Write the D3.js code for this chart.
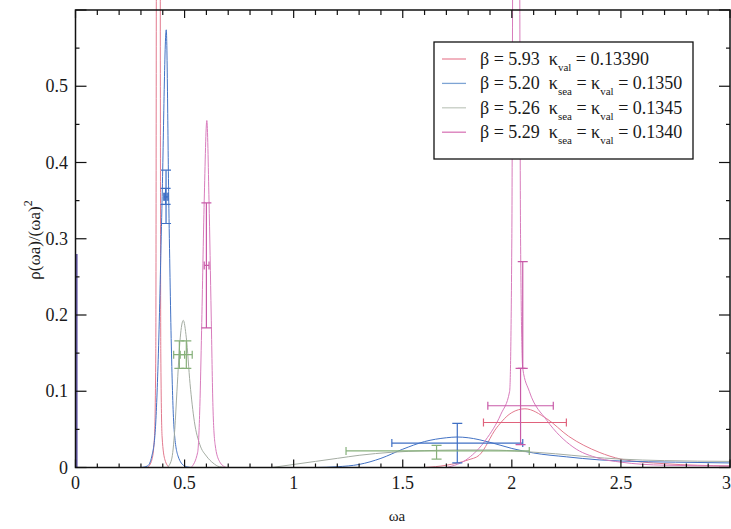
<!DOCTYPE html>
<html>
<head>
<meta charset="utf-8">
<script src="https://cdn.jsdelivr.net/npm/d3@7"></script>
</head>
<body style="margin:0">
<svg id="chart" width="731" height="529"></svg>
<script>
// spectral curves, [omega a, rho(omega a)/(omega a)^2]
const redNarrow = [[0.33, 0], [0.35, 0.01], [0.362, 0.04], [0.368, 0.15], [0.370, 0.5], [0.372, 1.2], [0.38, 3], [0.387, 1.2], [0.389, 0.5], [0.391, 0.15], [0.397, 0.04], [0.41, 0.01], [0.43, 0]];
const redBroad = [[1.6, 0], [1.7, 0.003], [1.8, 0.01], [1.85, 0.016], [1.93, 0.052], [2.0, 0.072], [2.06, 0.077], [2.16, 0.064], [2.26, 0.041], [2.4, 0.02], [2.5, 0.011], [2.7, 0.005], [3.0, 0.002]];

const blueZero = [[0.004, 0.28], [0.004, 0]];
const blueNarrow = [[0.30, 0], [0.33, 0.002], [0.35, 0.015], [0.366, 0.05], [0.38, 0.15], [0.396, 0.34], [0.416, 0.574], [0.428, 0.34], [0.44, 0.15], [0.452, 0.05], [0.47, 0.015], [0.5, 0.002], [0.53, 0]];
const blueBroad = [[1.1, 0], [1.2, 0.001], [1.3, 0.004], [1.4, 0.012], [1.5, 0.024], [1.6, 0.034], [1.7, 0.039], [1.75, 0.04], [1.8, 0.039], [1.9, 0.033], [2.0, 0.025], [2.1, 0.019], [2.25, 0.014], [2.4, 0.01], [2.5, 0.0085], [2.75, 0.007], [3.0, 0.006]];

const greenNarrow = [[0.42, 0], [0.44, 0.01], [0.455, 0.05], [0.465, 0.1], [0.48, 0.17], [0.494, 0.193], [0.508, 0.17], [0.525, 0.11], [0.545, 0.06], [0.57, 0.03], [0.6, 0.015], [0.63, 0.006], [0.66, 0.001], [0.7, 0]];
const greenBroad = [[0.9, 0], [1.0, 0.004], [1.1, 0.008], [1.2, 0.012], [1.3, 0.016], [1.45, 0.02], [1.6, 0.022], [1.75, 0.023], [1.9, 0.023], [2.05, 0.021], [2.2, 0.018], [2.35, 0.014], [2.5, 0.011], [2.7, 0.009], [3.0, 0.008]];

const magNarrow = [[0.53, 0], [0.56, 0.02], [0.57, 0.08], [0.578, 0.18], [0.59, 0.35], [0.602, 0.455], [0.612, 0.35], [0.622, 0.2], [0.63, 0.08], [0.64, 0.03], [0.66, 0.008], [0.69, 0]];
const magBroad = [[1.7, 0], [1.8, 0.012], [1.88, 0.036], [1.95, 0.07], [1.99, 0.1], [2.0, 0.3], [2.005, 0.8], [2.02, 3], [2.035, 0.8], [2.04, 0.3], [2.05, 0.13], [2.08, 0.1], [2.16, 0.062], [2.28, 0.027], [2.4, 0.012], [2.5, 0.007], [2.7, 0.003], [3.0, 0.002]];

// error bars: x, y, x range, y range
const redErr = [{ x: 2.06, y: 0.059, xlo: 1.87, xhi: 2.25, ylo: 0.059, yhi: 0.059 }];
const blueErr = [
  { x: 0.415, y: 0.355, xlo: 0.405, xhi: 0.425, ylo: 0.32, yhi: 0.39 },
  { x: 0.413, y: 0.355, xlo: 0.407, xhi: 0.42, ylo: 0.345, yhi: 0.366 },
  { x: 1.75, y: 0.032, xlo: 1.45, xhi: 2.05, ylo: 0.006, yhi: 0.058 }
];
const greenErr = [
  { x: 0.476, y: 0.148, xlo: 0.45, xhi: 0.50, ylo: 0.13, yhi: 0.166 },
  { x: 0.508, y: 0.148, xlo: 0.48, xhi: 0.535, ylo: 0.13, yhi: 0.166 },
  { x: 1.66, y: 0.0217, xlo: 1.24, xhi: 2.08, ylo: 0.0217, yhi: 0.0217 },
  { x: 1.655, y: 0.02, xlo: 1.655, xhi: 1.655, ylo: 0.011, yhi: 0.029 }
];
const magErr = [
  { x: 0.6, y: 0.265, xlo: 0.59, xhi: 0.612, ylo: 0.183, yhi: 0.347 },
  { x: 2.05, y: 0.2, xlo: 2.05, xhi: 2.05, ylo: 0.13, yhi: 0.27 },
  { x: 2.04, y: 0.081, xlo: 1.89, xhi: 2.19, ylo: 0.03, yhi: 0.13 }
];

const xTicks = [0, 0.5, 1, 1.5, 2, 2.5, 3];
const yTicks = [0, 0.1, 0.2, 0.3, 0.4, 0.5];

const legendRows = [
  [['β = 5.93  κ'], ['val', 1], [' = 0.13390']],
  [['β = 5.20  κ'], ['sea', 1], [' = κ'], ['val', 1], [' = 0.1350']],
  [['β = 5.26  κ'], ['sea', 1], [' = κ'], ['val', 1], [' = 0.1345']],
  [['β = 5.29  κ'], ['sea', 1], [' = κ'], ['val', 1], [' = 0.1340']]
];

const series = [
  { curves: [redNarrow, redBroad], err: redErr, line: '#e27a8e', bar: '#e0627c', key: '#ea8a9c' },
  { curves: [blueNarrow, blueBroad], err: blueErr, line: '#4272c4', bar: '#3f6fc4', key: '#7ea4d4' },
  { curves: [greenNarrow, greenBroad], err: greenErr, line: '#a4aca2', bar: '#86b07a', key: '#c4cbc2' },
  { curves: [magNarrow, magBroad], err: magErr, line: '#d87cbc', bar: '#c85aa8', key: '#d878b8' }
];

const FONT = '"Liberation Serif"';

const svg = d3.select('#chart');
const x = d3.scaleLinear().domain([0, 3]).range([75.5, 730]);
const y = d3.scaleLinear().domain([0, 0.6]).range([467.5, 10]);

// texts first
svg.append('g').selectAll('text').data(xTicks).join('text')
  .attr('x', d => d === 3 ? 731 : x(d)).attr('y', 489)
  .attr('text-anchor', d => d === 3 ? 'end' : 'middle')
  .attr('font-size', 18).style('font-family', FONT).attr('fill', '#1a1a1a')
  .text(d => d);

svg.append('g').selectAll('text').data(yTicks).join('text')
  .attr('x', 68).attr('y', d => y(d) + 6)
  .attr('text-anchor', 'end')
  .attr('font-size', 18).style('font-family', FONT).attr('fill', '#1a1a1a')
  .text(d => d);

svg.append('text').attr('x', 397).attr('y', 521)
  .attr('text-anchor', 'middle')
  .attr('font-size', 15).style('font-family', FONT).attr('fill', '#1a1a1a').text('ωa');

const yl = svg.append('text')
  .attr('transform', 'translate(40,240) rotate(-90)')
  .attr('text-anchor', 'middle')
  .attr('font-size', 17).style('font-family', FONT).attr('fill', '#1a1a1a');
yl.append('tspan').text('ρ(ωa)/(ωa)');
yl.append('tspan').attr('dy', -8).attr('font-size', 12).text('2');

// plot area as a nested viewport that hides what leaves it
const plot = svg.append('svg')
  .attr('x', x(0)).attr('y', 0)
  .attr('width', x(3) - x(0)).attr('height', y(0))
  .attr('viewBox', `${x(0)} 0 ${x(3) - x(0)} ${y(0)}`)
  .attr('overflow', 'hidden');

const line = d3.line().x(d => x(d[0])).y(d => y(d[1])).curve(d3.curveMonotoneX);

plot.append('path')
  .attr('d', d3.line().x(d => x(d[0])).y(d => y(d[1]))(blueZero))
  .attr('fill', 'none').attr('stroke', '#6a5fb0').attr('stroke-width', 2.5);

series.forEach(s => {
  s.curves.forEach(c => {
    plot.append('path')
      .attr('d', line(c))
      .attr('fill', 'none')
      .attr('stroke', s.line)
      .attr('stroke-width', 1);
  });
});

// error bars
series.forEach(s => {
  const g = plot.append('g').attr('stroke', s.bar).attr('stroke-width', 1.2).attr('fill', 'none');
  s.err.forEach(e => {
    if (e.xhi > e.xlo) {
      g.append('line').attr('x1', x(e.xlo)).attr('x2', x(e.xhi)).attr('y1', y(e.y)).attr('y2', y(e.y));
      [e.xlo, e.xhi].forEach(v => g.append('line')
        .attr('x1', x(v)).attr('x2', x(v)).attr('y1', y(e.y) - 4).attr('y2', y(e.y) + 4));
    }
    if (e.yhi > e.ylo) {
      g.append('line').attr('x1', x(e.x)).attr('x2', x(e.x)).attr('y1', y(e.ylo)).attr('y2', y(e.yhi));
      [e.ylo, e.yhi].forEach(v => g.append('line')
        .attr('x1', x(e.x) - 5).attr('x2', x(e.x) + 5).attr('y1', y(v)).attr('y2', y(v)));
    }
  });
});

// frame and inward ticks
const axes = svg.append('g').attr('stroke', '#111').attr('fill', 'none');
axes.append('rect')
  .attr('x', x(0)).attr('y', y(0.6))
  .attr('width', x(3) - x(0)).attr('height', y(0) - y(0.6))
  .attr('stroke-width', 1.5);

d3.range(0, 31).map(i => i / 10).forEach(v => {
  const major = Math.abs(v * 2 - Math.round(v * 2)) < 1e-6;
  axes.append('line').attr('x1', x(v)).attr('x2', x(v))
    .attr('y1', y(0)).attr('y2', y(0) - (major ? 8 : 4)).attr('stroke-width', 1.2);
  axes.append('line').attr('x1', x(v)).attr('x2', x(v))
    .attr('y1', y(0.6)).attr('y2', y(0.6) + (major ? 8 : 5)).attr('stroke-width', 1.2);
});
d3.range(0, 13).map(i => i * 0.05).forEach(v => {
  const major = Math.abs(v * 10 - Math.round(v * 10)) < 1e-6;
  axes.append('line').attr('x1', x(0)).attr('x2', x(0) + (major ? 11 : 4))
    .attr('y1', y(v)).attr('y2', y(v)).attr('stroke-width', 1.2);
  axes.append('line').attr('x1', x(3)).attr('x2', x(3) - (major ? 11 : 4))
    .attr('y1', y(v)).attr('y2', y(v)).attr('stroke-width', 1.2);
});

// legend
const lg = svg.append('g');
lg.append('rect').attr('x', 434).attr('y', 42).attr('width', 259).attr('height', 117)
  .attr('fill', '#fff').attr('stroke', '#111').attr('stroke-width', 1.3);
legendRows.forEach((row, i) => {
  const by = 65 + i * 24.4;
  lg.append('line').attr('x1', 442).attr('x2', 466).attr('y1', by - 6).attr('y2', by - 6)
    .attr('stroke', series[i].key).attr('stroke-width', 1.3);
  const t = lg.append('text').attr('x', 480).attr('y', by)
    .attr('font-size', 18).style('font-family', FONT).attr('fill', '#1a1a1a');
  let shift = 0;
  row.forEach(p => {
    const sub = !!p[1];
    const dy = (sub ? 6 : 0) - shift;
    shift = sub ? 6 : 0;
    t.append('tspan')
      .attr('font-size', sub ? 11 : 18)
      .attr('dy', dy)
      .text(p[0].replace(/ {2}/g, '\u00a0 '));
  });
});
</script>
</body>
</html>
